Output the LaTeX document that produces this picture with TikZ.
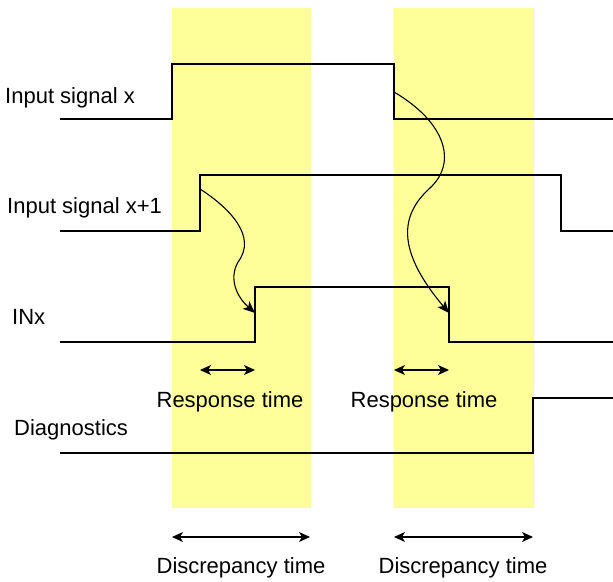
\documentclass[tikz,border=0pt]{standalone}
\usepackage{fontspec}
\setmainfont{Liberation Sans}
\usetikzlibrary{arrows.meta,positioning,calc}
\definecolor{window}{RGB}{255,255,153}
\tikzset{
    sig/.style={line width=1.3pt, line join=miter},
    lbl/.style={font=\fontsize{22}{26}\selectfont, inner sep=0pt},
    span/.style={{Stealth[length=11pt,width=10pt,inset=3pt]}-{Stealth[length=11pt,width=10pt,inset=3pt]}, line width=1.1pt},
    cause/.style={-{Stealth[length=12pt,width=10pt,inset=3pt]}, line width=1.1pt}
}

\begin{document}
\begin{tikzpicture}[x=1pt, y=-1pt]
    \useasboundingbox (0,0) rectangle (613,581);

    % discrepancy windows
    \fill[window] (172,8) rectangle (311,508);
    \fill[window] (394,8) rectangle (534,508);

    % signal names
    \node[lbl, anchor=base west] (inx) at (5,103) {Input signal x};
    \node[lbl, anchor=base west] (inxp) at (7,213) {Input signal x+1};
    \node[lbl, anchor=base west] (out) at (12,324) {INx};
    \node[lbl, anchor=base west] (diag) at (14,435) {Diagnostics};

    % waveforms
    \draw[sig] (60,119) -- (172,119) -- (172,64) -- (394,64) -- (394,119) -- (613,119);
    \draw[sig] (60,231) -- (200,231) -- (200,175) -- (561,175) -- (561,231) -- (613,231);
    \draw[sig] (60,342) -- (255,342) -- (255,287) -- (449,287) -- (449,342) -- (613,342);
    \draw[sig] (60,453) -- (533,453) -- (533,398) -- (613,398);

    % cause and effect
    \coordinate (rise1) at (200,189);
    \coordinate (hit1) at (255,313);
    \coordinate (fall1) at (394,92);
    \coordinate (hit2) at (449,313);
    \draw[cause] (rise1) .. controls (228,207) and (258,236) .. (238,262)
        .. controls (228,280) and (238,298) .. (hit1);
    \draw[cause] (fall1) .. controls (445,122) and (458,162) .. (430,188)
        .. controls (400,215) and (396,250) .. (hit2);

    % response times
    \coordinate (r1a) at (200,370);
    \coordinate (r1b) at (255,370);
    \coordinate (r2a) at (394,370);
    \coordinate (r2b) at (449,370);
    \draw[span] (r1a) -- (r1b);
    \draw[span] (r2a) -- (r2b);
    \node[lbl, anchor=base] (resp1) at (230,407) {Response time};
    \node[lbl, anchor=base] (resp2) at (424,407) {Response time};

    % discrepancy times
    \coordinate (d1a) at (172,537);
    \coordinate (d1b) at (310,537);
    \coordinate (d2a) at (394,537);
    \coordinate (d2b) at (533,537);
    \draw[span] (d1a) -- (d1b);
    \draw[span] (d2a) -- (d2b);
    \node[lbl, anchor=base] (disc1) at (241,573) {Discrepancy time};
    \node[lbl, anchor=base] (disc2) at (463,573) {Discrepancy time};
\end{tikzpicture}
\end{document}
